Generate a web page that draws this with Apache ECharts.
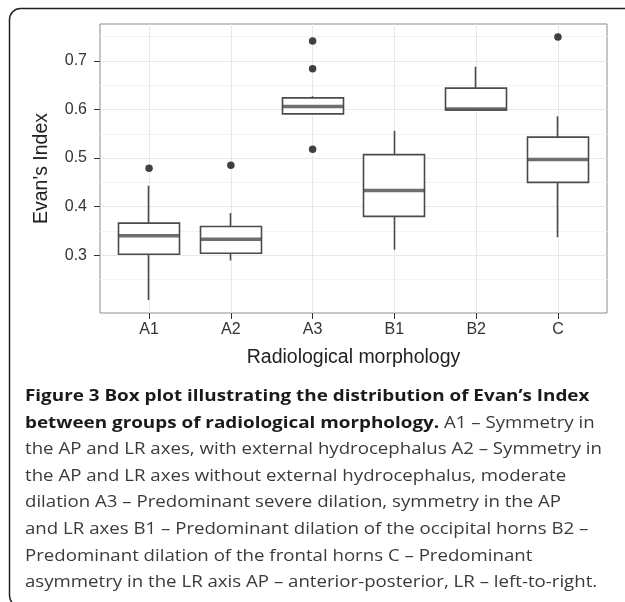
<!DOCTYPE html>
<html>
<head>
<meta charset="utf-8">
<script src="https://cdn.jsdelivr.net/npm/echarts@6/dist/echarts.min.js"></script>
<style>
  html, body { margin: 0; padding: 0; background: #fff; }
  #chart { width: 625px; height: 602px; }
</style>
</head>
<body>
<div id="chart"></div>
<script>
// groups of radiological morphology
var categories = ['A1', 'A2', 'A3', 'B1', 'B2', 'C'];

// box stats
var lowerWhisker = [0.208, 0.289, 0.589, 0.311, 0.599, 0.337];
var q1           = [0.302, 0.304, 0.591, 0.380, 0.599, 0.450];
var median       = [0.340, 0.333, 0.606, 0.433, 0.601, 0.497];
var q3           = [0.366, 0.359, 0.624, 0.507, 0.644, 0.543];
var upperWhisker = [0.443, 0.387, 0.627, 0.556, 0.688, 0.586];

// outliers: [group index, value]
var outliers = [[0, 0.479], [1, 0.485], [2, 0.741], [2, 0.684], [2, 0.518], [5, 0.749]];

var yTicks = [0.3, 0.4, 0.5, 0.6, 0.7];
var xTicks = [0, 1, 2, 3, 4, 5];

var axisFont = 'Liberation Sans, Arial, sans-serif';
var capFont = 'Open Sans, sans-serif';

var chart = echarts.init(document.getElementById('chart'));

var boxData = categories.map(function (c, i) {
  // candlestick order: [x, open, close, lowest, highest]
  return [i, q1[i], q3[i], lowerWhisker[i], upperWhisker[i]];
});
var medData = categories.map(function (c, i) {
  return [i, median[i]];
});

var caption =
  '{b|Figure 3 Box plot illustrating the distribution of Evan\u2019s Index}\n' +
  '{b|between groups of radiological morphology.}{r| A1 \u2013 Symmetry in}\n' +
  '{r|the AP and LR axes, with external hydrocephalus A2 \u2013 Symmetry in}\n' +
  '{r|the AP and LR axes without external hydrocephalus, moderate}\n' +
  '{r|dilation A3 \u2013 Predominant severe dilation, symmetry in the AP}\n' +
  '{r|and LR axes B1 \u2013 Predominant dilation of the occipital horns B2 \u2013}\n' +
  '{r|Predominant dilation of the frontal horns C \u2013 Predominant}\n' +
  '{r|asymmetry in the LR axis AP \u2013 anterior-posterior, LR \u2013 left-to-right.}';

var option = {
  backgroundColor: '#fff',
  animation: false,
  grid: {
    left: 100, top: 24, width: 507, height: 289,
    show: true,
    backgroundColor: '#fff',
    borderColor: '#8c8c8c',
    borderWidth: 1,
    outerBoundsMode: 'none'
  },
  xAxis: {
    type: 'value',
    min: -0.6,
    max: 5.6,
    axisLine: { show: false, onZero: false },
    axisTick: { show: true, length: 6, customValues: xTicks, lineStyle: { color: '#333' } },
    axisLabel: {
      customValues: xTicks,
      formatter: function (v) { return categories[Math.round(v)]; },
      margin: 9, fontSize: 16, color: '#333', fontFamily: axisFont
    },
    splitLine: { show: true, lineStyle: { color: '#e8e8e8', width: 1 } },
    name: 'Radiological morphology',
    nameLocation: 'middle',
    nameGap: 35,
    nameTextStyle: { fontSize: 19.5, color: '#222', fontFamily: axisFont }
  },
  yAxis: {
    type: 'value',
    min: 0.181,
    max: 0.776,
    axisLine: { show: false, onZero: false },
    axisTick: { show: true, length: 6, customValues: yTicks, lineStyle: { color: '#333' } },
    axisLabel: {
      customValues: yTicks,
      formatter: function (v) { return v.toFixed(1); },
      margin: 13, fontSize: 16, color: '#333', fontFamily: axisFont
    },
    splitLine: { show: true, lineStyle: { color: '#e8e8e8', width: 1 } },
    minorTick: { show: false, splitNumber: 2 },
    minorSplitLine: { show: true, lineStyle: { color: '#f3f3f3', width: 1 } },
    name: 'Evan\'s Index',
    nameLocation: 'middle',
    nameRotate: 90,
    nameGap: 48,
    nameTextStyle: { fontSize: 19.5, color: '#222', fontFamily: axisFont }
  },
  series: [
    {
      type: 'candlestick',
      data: boxData,
      barWidth: 61.5,
      itemStyle: {
        color: '#fff', color0: '#fff',
        borderColor: '#4a4a4a', borderColor0: '#4a4a4a',
        borderWidth: 1.6
      },
      z: 2
    },
    {
      type: 'scatter',
      data: medData,
      symbol: 'rect',
      symbolSize: [61.5, 3.5],
      itemStyle: { color: '#4a4a4a' },
      z: 3
    },
    {
      type: 'scatter',
      data: outliers,
      symbol: 'circle',
      symbolSize: 7.5,
      itemStyle: { color: '#111' },
      z: 4
    }
  ],
  graphic: [
    {
      type: 'rect',
      shape: { x: 9.5, y: 8.5, width: 640, height: 598, r: 11 },
      style: { fill: 'none', stroke: '#222', lineWidth: 1.5 },
      silent: true
    },
    {
      type: 'text',
      x: 25,
      y: 383,
      scaleX: 1.13,
      style: {
        text: caption,
        verticalAlign: 'top',
        rich: {
          b: { fontFamily: capFont, fontSize: 16.7, fontWeight: 'bold', fill: '#1a1a1a', lineHeight: 26.6 },
          r: { fontFamily: capFont, fontSize: 16.5, fill: '#3a3a3a', lineHeight: 26.6 }
        }
      }
    }
  ]
};

chart.setOption(option);
</script>
</body>
</html>
